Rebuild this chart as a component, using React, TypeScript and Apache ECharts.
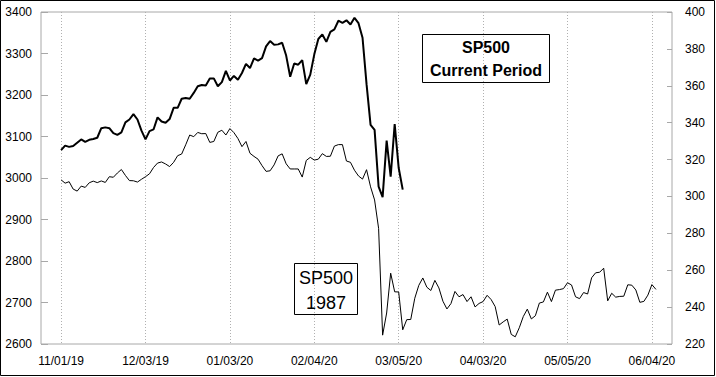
import React, { useEffect, useRef } from "react";
import * as echarts from "echarts";

// Trading-day tick labels (one every 21 trading days)
const tickLabels = ["11/01/19", "12/03/19", "01/03/20", "02/04/20", "03/05/20", "04/03/20", "05/05/20", "06/04/20"];
const TICK_STEP = 21;
const PAD_BEFORE = 5;
const PAD_AFTER = 4;

// SP500 current period (left axis), daily closes from 11/01/19
const sp500Current = [
  3067, 3078, 3075, 3077, 3085, 3093, 3087, 3092, 3094, 3097, 3120, 3122, 3120, 3108, 3104, 3110, 3134, 3141, 3154, 3141,
  3114, 3093, 3113, 3117, 3146, 3136, 3133, 3142, 3169, 3169, 3191, 3193, 3191, 3205, 3221, 3224, 3223, 3240, 3240, 3221, 3231,
  3258, 3235, 3246, 3237, 3253, 3275, 3265, 3288, 3283, 3289, 3317, 3330, 3321, 3322, 3326, 3295, 3244, 3276, 3273, 3284, 3226,
  3249, 3298, 3335, 3346, 3328, 3352, 3358, 3379, 3374, 3380, 3370, 3386, 3373, 3338, 3226, 3128, 3116, 2979, 2954,
  3090, 3003, 3130, 3024, 2972,
];

// SP500 1987 (right axis), aligned trading days
const sp5001987 = [
  309.0, 307.2, 308.0, 304.0, 302.9, 305.6, 304.9, 307.4, 308.3, 307.5,
  308.4, 307.6, 310.7, 310.4, 312.7, 314.6, 311.4, 308.6, 308.5, 307.8,
  309.3, 310.7, 312.3, 315.7, 318.1, 318.7, 317.6, 316.2, 318.5, 322.1,
  323.0, 328.0, 333.3, 332.4, 334.7, 334.0, 334.1, 329.3, 329.8, 334.8,
  335.9, 333.3, 336.8, 334.6, 331.4, 327.0, 329.8, 323.4, 321.7, 320.2,
  316.7, 313.6, 313.9, 317.1, 322.0, 323.1, 317.7, 314.9, 314.9, 314.9,
  310.5, 319.5, 321.2, 319.7, 320.2, 323.2, 321.7, 321.8, 327.3, 328.1,
  328.1, 319.2, 318.5, 314.2, 311.1, 309.4, 314.5, 305.2, 298.1, 282.7,
  224.8, 236.8, 258.4, 248.3, 248.2, 227.7, 233.2, 233.3, 244.8, 251.8,
  255.8, 250.8, 249.0, 254.5, 250.4, 243.2, 239.0, 241.9, 248.5, 245.6,
  246.8, 243.0, 245.6, 240.1, 242.0, 243.0, 246.4, 244.1, 240.3, 230.3,
  232.0, 233.5, 225.2, 223.9, 228.8, 234.9, 238.9, 233.6, 235.3, 242.2,
  242.8, 248.1, 243.0, 249.2, 249.5, 250.0, 253.2, 252.0, 245.6, 244.6,
  247.9, 247.1, 255.9, 258.6, 258.9, 261.1, 243.4, 247.5, 245.4, 245.8,
  245.9, 252.1, 251.9, 249.3, 242.6, 243.1, 246.5, 252.2, 249.6,
];

const leftAxis = { min: 2600, max: 3400, step: 100 };
const rightAxis = { min: 220, max: 400, step: 20 };

const labelCurrent = "SP500\nCurrent Period";
const label1987 = "SP500\n1987";

const FONT = "'Liberation Sans', Arial, sans-serif";

export default function App() {
  const ref = useRef<HTMLDivElement>(null);

  useEffect(() => {
    document.body.style.margin = "0";
    if (!ref.current) return;
    const chart = echarts.init(ref.current, null, { renderer: "svg" });

    const dataLen = Math.max(sp500Current.length, sp5001987.length);
    const total = PAD_BEFORE + dataLen + PAD_AFTER;
    const categories = Array.from({ length: total }, (_, k) => String(k));
    const isTick = (k: number) => {
      const d = k - PAD_BEFORE;
      return d >= 0 && d % TICK_STEP === 0 && d / TICK_STEP < tickLabels.length;
    };
    const labelAt = (k: number) => (isTick(k) ? tickLabels[(k - PAD_BEFORE) / TICK_STEP] : "");
    const pad = (arr: number[]) => {
      const out: (number | null)[] = [];
      for (let k = 0; k < total; k++) {
        const d = k - PAD_BEFORE;
        out.push(d >= 0 && d < arr.length ? arr[d] : null);
      }
      return out;
    };

    chart.setOption({
      animation: false,
      backgroundColor: "#ffffff",
      textStyle: { fontFamily: FONT },
      grid: {
        left: 41,
        top: 12,
        width: 631,
        height: 332,
        show: true,
        backgroundColor: "#ffffff",
        borderColor: "#a8a8a8",
        borderWidth: 1,
      },
      xAxis: {
        type: "category",
        data: categories,
        boundaryGap: false,
        axisLine: { show: false },
        axisTick: { show: false },
        axisLabel: {
          interval: (idx: number) => isTick(idx),
          formatter: (_v: string, idx: number) => labelAt(idx),
          color: "#000",
          fontSize: 12,
          fontFamily: FONT,
          margin: 11,
        },
        splitLine: {
          show: true,
          interval: (idx: number) => isTick(idx),
          lineStyle: { color: "#b0b0b0", type: [1, 2], width: 1 },
        },
      },
      yAxis: [
        {
          type: "value",
          position: "left",
          min: leftAxis.min,
          max: leftAxis.max,
          interval: leftAxis.step,
          axisLine: { show: false },
          axisTick: { show: true, inside: true, length: 7, lineStyle: { color: "#a8a8a8" } },
          axisLabel: {
            color: "#000",
            fontSize: 12,
            fontFamily: FONT,
            margin: 9,
            formatter: (v: number) => String(v),
          },
          splitLine: { show: false },
        },
        {
          type: "value",
          position: "right",
          min: rightAxis.min,
          max: rightAxis.max,
          interval: rightAxis.step,
          axisLine: { show: false },
          axisTick: { show: true, inside: true, length: 5, lineStyle: { color: "#a8a8a8" } },
          axisLabel: {
            color: "#000",
            fontSize: 12,
            fontFamily: FONT,
            margin: 13,
            formatter: (v: number) => String(v),
          },
          splitLine: { show: false },
        },
      ],
      series: [
        {
          name: "SP500 1987",
          type: "line",
          yAxisIndex: 1,
          data: pad(sp5001987),
          showSymbol: false,
          lineStyle: { color: "#000", width: 1 },
          z: 2,
        },
        {
          name: "SP500 Current Period",
          type: "line",
          yAxisIndex: 0,
          data: pad(sp500Current),
          showSymbol: false,
          lineStyle: { color: "#000", width: 2 },
          z: 3,
        },
      ],
      graphic: [
        {
          type: "group",
          z: 100,
          children: [
            {
              type: "rect",
              shape: { x: 422.5, y: 34.5, width: 127, height: 48 },
              style: { fill: "#fff", stroke: "#000", lineWidth: 1 },
            },
            {
              type: "text",
              style: {
                text: labelCurrent,
                x: 486,
                y: 58.5,
                textAlign: "center",
                textVerticalAlign: "middle",
                font: `bold 16px ${FONT}`,
                lineHeight: 23,
                fill: "#000",
              },
            },
            {
              type: "rect",
              shape: { x: 294.5, y: 263.5, width: 63, height: 51 },
              style: { fill: "#fff", stroke: "#000", lineWidth: 1 },
            },
            {
              type: "text",
              style: {
                text: label1987,
                x: 326,
                y: 290,
                textAlign: "center",
                textVerticalAlign: "middle",
                font: `18px ${FONT}`,
                lineHeight: 25,
                fill: "#000",
              },
            },
            {
              type: "rect",
              shape: { x: 0.5, y: 0.5, width: 714, height: 375 },
              style: { fill: "none", stroke: "#000", lineWidth: 1 },
            },
          ],
        },
      ],
    });

    return () => {
      chart.dispose();
    };
  }, []);

  return <div ref={ref} style={{ width: 716, height: 377 }} />;
}
